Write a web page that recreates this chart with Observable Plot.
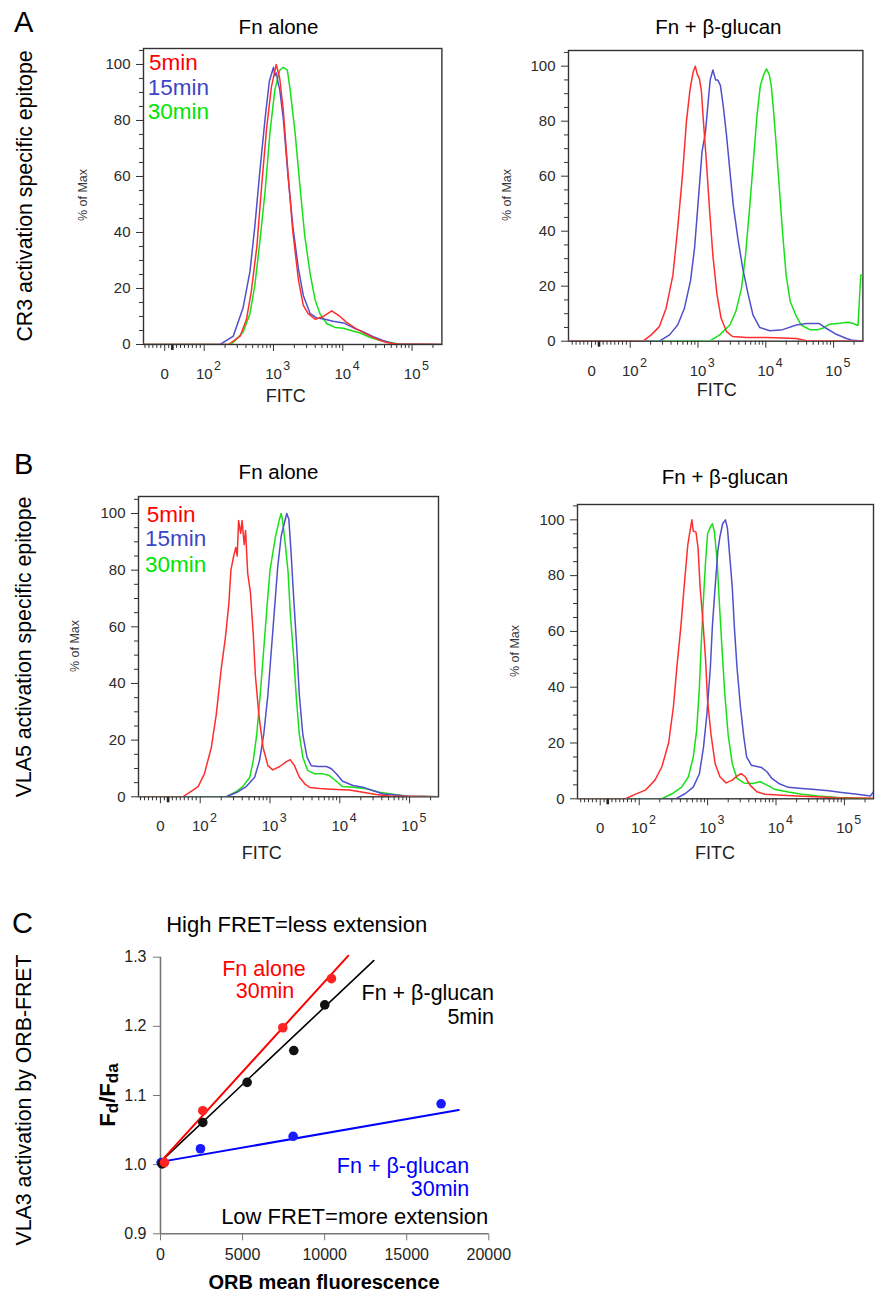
<!DOCTYPE html>
<html>
<head>
<meta charset="utf-8">
<script src="https://cdn.jsdelivr.net/npm/d3@7"></script>
<script src="https://cdn.jsdelivr.net/npm/@observablehq/plot@0.6"></script>
<style>
  html, body { margin: 0; padding: 0; background: #fff; }
  #fig { position: relative; width: 878px; height: 1293px; overflow: hidden; background: #fff;
         font-family: "Liberation Sans", Arial, Helvetica, sans-serif; }
</style>
</head>
<body>
<div id="fig"></div>
<script>
// ---------------- DATA ----------------
const timepoints = ["5min", "15min", "30min"];
const conditions = ["Fn alone", "Fn + β-glucan"];
const panelLetters = ["A", "B", "C"];
const rowLabels = ["CR3 activation specific epitope", "VLA5 activation specific epitope", "VLA3 activation by ORB-FRET"];
const histYLabel = "% of Max";
const histXLabel = "FITC";

// histogram x values are FITC channel positions in decades (biexponential display), y = % of Max
const cr3Fn5 = [[1.09,0],[2.35,0],[2.52,3],[2.61,9],[2.68,19],[2.76,35],[2.83,57],[2.90,77],[2.97,92],[3.04,100],[3.09,95],[3.14,84],[3.21,61],[3.28,40],[3.36,23],[3.43,14],[3.50,11],[3.60,9],[3.72,10],[3.84,12],[3.96,10],[4.05,8],[4.20,5.5],[4.34,3.7],[4.49,1.9],[4.63,0.7],[4.78,0.2],[5.45,0]];
const cr3Fn15 = [[1.09,0],[2.23,0],[2.42,3],[2.56,13],[2.66,26],[2.73,42],[2.80,61],[2.88,81],[2.94,94],[3.00,99],[3.02,96],[3.04,97],[3.07,93],[3.09,91],[3.14,81],[3.21,60],[3.28,42],[3.36,27],[3.43,17.5],[3.53,11],[3.62,9.5],[3.74,9],[3.86,8.3],[4.01,7.7],[4.15,6],[4.29,4.6],[4.44,2.8],[4.58,1.4],[4.73,0.2],[5.45,0]];
const cr3Fn30 = [[1.09,0],[2.39,0],[2.56,4.4],[2.66,11],[2.73,21],[2.80,36],[2.88,55],[2.95,76],[3.02,91],[3.09,98],[3.14,99],[3.20,98],[3.24,91],[3.31,76],[3.38,57],[3.45,39],[3.53,25],[3.60,16],[3.67,11],[3.77,7.4],[3.89,6.1],[4.01,5.8],[4.13,4.9],[4.25,4.1],[4.39,2.6],[4.54,1.4],[4.68,0.8],[4.80,0.2],[5.45,0]];

const cr3Glu5 = [[1.09,0],[2.19,0],[2.31,2.3],[2.43,5.3],[2.53,12],[2.63,24],[2.70,41],[2.77,60],[2.83,80],[2.88,91],[2.90,94],[2.93,98],[2.96,100],[2.99,97],[3.02,95.5],[3.05,91],[3.08,80],[3.12,66.5],[3.17,48],[3.22,31],[3.28,17],[3.34,8.4],[3.42,3.5],[3.51,1.7],[3.71,1.3],[4.01,1.3],[4.45,1.0],[4.60,0.2],[5.45,0]];
const cr3Glu15 = [[1.09,0],[2.43,0],[2.58,2.3],[2.70,5.9],[2.80,12],[2.89,22],[2.95,34],[3.01,53],[3.06,69],[3.11,76],[3.15,87],[3.18,95],[3.22,98.6],[3.26,95],[3.29,95],[3.33,93],[3.37,86],[3.42,75],[3.47,62],[3.52,49.5],[3.59,37],[3.66,26.5],[3.74,17],[3.81,9.6],[3.91,5],[4.06,3.8],[4.25,4.2],[4.45,5.9],[4.60,6.4],[4.79,6.4],[4.89,4.7],[5.04,2.5],[5.19,1],[5.28,0.3],[5.45,0]];
const cr3Glu30 = [[1.09,0],[3.17,0],[3.32,2.3],[3.47,5.9],[3.56,11],[3.64,19],[3.70,31],[3.76,48],[3.82,66.5],[3.87,82],[3.92,93],[3.97,97],[4.01,99],[4.05,97],[4.08,93],[4.11,85],[4.15,72.5],[4.20,55.5],[4.25,38.6],[4.30,24],[4.36,14.4],[4.44,9.6],[4.52,5.9],[4.65,4.2],[4.77,4.2],[4.84,4.7],[4.94,6.2],[5.09,6.5],[5.21,6.9],[5.28,6.5],[5.36,5.7],[5.40,24],[5.45,24]];

const vla5Fn5 = [[1.09,0],[1.75,0],[1.87,1.9],[1.97,3.6],[2.06,8.1],[2.16,17.5],[2.23,29],[2.30,45],[2.36,56],[2.41,68],[2.44,80],[2.48,85],[2.51,88],[2.53,85],[2.55,97.5],[2.58,93],[2.60,97.5],[2.63,89],[2.65,94],[2.68,79],[2.72,72],[2.76,57.5],[2.79,43],[2.84,29],[2.90,17.5],[2.97,11],[3.04,9.5],[3.14,10.7],[3.23,12.3],[3.29,13.1],[3.35,11],[3.42,7],[3.50,4.5],[3.57,3.3],[3.71,2.9],[3.95,2.6],[4.14,2.4],[4.33,1.6],[4.52,0.8],[4.71,0.3],[5.45,0]];
const vla5Fn15 = [[1.09,0],[2.37,0],[2.52,1.5],[2.66,3.6],[2.78,6.9],[2.85,12.8],[2.91,22],[2.97,36],[3.02,52],[3.07,68],[3.11,81],[3.16,92],[3.21,97],[3.24,100],[3.27,98],[3.30,87],[3.34,70],[3.38,54],[3.42,36],[3.47,22],[3.53,14],[3.59,11],[3.69,10.7],[3.81,10.7],[3.88,9.9],[3.95,8.1],[4.04,5.5],[4.19,4],[4.33,3.4],[4.47,2.2],[4.62,1],[4.81,0.6],[4.95,0.2],[5.45,0]];
const vla5Fn30 = [[1.09,0],[2.37,0],[2.52,1.9],[2.61,3.6],[2.71,6.9],[2.76,12.8],[2.81,22],[2.86,36],[2.91,52],[2.96,68],[3.00,80],[3.04,86],[3.08,92],[3.13,97.5],[3.16,100],[3.18,97.5],[3.22,89],[3.26,79],[3.29,65],[3.34,49],[3.38,34],[3.42,22],[3.47,14],[3.54,9.3],[3.64,8.1],[3.76,8.1],[3.85,7.5],[3.95,5.5],[4.04,3.6],[4.19,3.4],[4.38,2.8],[4.57,1.6],[4.81,0.7],[4.98,0.2],[5.45,0]];

const vla5Glu5 = [[1.09,0],[1.80,0],[1.94,1.6],[2.09,3.1],[2.23,6.7],[2.33,11.4],[2.43,20],[2.50,33],[2.55,47],[2.61,62],[2.66,77],[2.71,91],[2.75,97],[2.77,100],[2.79,96],[2.83,95.6],[2.86,90],[2.89,76],[2.93,64],[2.97,50],[3.00,35],[3.05,23],[3.11,12.6],[3.18,7.9],[3.27,5.7],[3.36,6.7],[3.43,8.1],[3.49,9],[3.55,7.9],[3.62,4.9],[3.72,2.5],[3.84,1.6],[4.09,1.3],[4.38,0.9],[4.67,0.6],[4.87,0.4],[5.45,0.2]];
const vla5Glu15 = [[1.09,0],[2.53,0],[2.67,1.8],[2.79,4.2],[2.88,9],[2.94,18.5],[2.99,30.5],[3.04,47],[3.07,62],[3.11,76],[3.15,89],[3.18,94],[3.22,98.6],[3.26,100],[3.29,97],[3.32,88],[3.36,76],[3.39,62],[3.43,47],[3.48,33],[3.53,22],[3.57,15],[3.64,12],[3.72,11.6],[3.79,11.2],[3.87,9.6],[3.94,7.3],[4.04,5.5],[4.18,4.1],[4.38,3.7],[4.57,3.3],[4.77,2.9],[4.96,2.3],[5.16,1.7],[5.30,1.3],[5.38,1.0],[5.42,2.4]];
const vla5Glu30 = [[1.09,0],[2.33,0],[2.48,1.8],[2.62,4.2],[2.72,7.9],[2.79,15],[2.84,24.5],[2.88,40],[2.91,57],[2.94,72],[2.97,85],[3.00,95],[3.04,97.4],[3.07,98.6],[3.10,95.6],[3.14,85],[3.17,71],[3.21,54],[3.25,38],[3.30,23],[3.36,12.6],[3.43,7.3],[3.53,5.7],[3.65,5.5],[3.77,6.1],[3.87,4.9],[3.99,3.3],[4.18,2.4],[4.38,1.6],[4.62,1],[4.91,0.5],[5.45,0]];

// histogram axes
const histYTicks = [0, 20, 40, 60, 80, 100];
const histXTicks = [1.43, 2, 3, 4, 5];          // biexponential positions of 0, 10^2 ... 10^5
const histXTickLabels = ["0", "10^2", "10^3", "10^4", "10^5"];
const histZeroMark = [1.54];

// Panel C: ORB-FRET
const fnAlone30X = [244, 2577, 7450, 10414];
const fnAlone30Y = [1.003, 1.078, 1.198, 1.269];
const glucan5X = [100, 2577, 5279, 8120, 10008];
const glucan5Y = [1.001, 1.061, 1.119, 1.165, 1.231];
const glucan30X = [40, 2436, 8080, 17094];
const glucan30Y = [1.003, 1.023, 1.041, 1.088];
// fitted lines (start / end)
const fitFnAlone30 = [[0, 1.004], [11430, 1.302]];
const fitGlucan5 = [[0, 1.004], [12990, 1.295]];
const fitGlucan30 = [[0, 1.004], [18170, 1.079]];
const cXTicks = [0, 5000, 10000, 15000, 20000];
const cYTicks = [0.9, 1.0, 1.1, 1.2, 1.3];
const cSeriesLabels = [["Fn alone", "30min"], ["Fn + β-glucan", "5min"], ["Fn + β-glucan", "30min"]];
const cTitles = ["High FRET=less extension", "Low FRET=more extension"];
const cXLabel = "ORB mean fluorescence";

// ---------------- STYLE ----------------
const FONT = '"Liberation Sans", Arial, Helvetica, sans-serif';
const histColors = { "5min": "#ff2e2e", "15min": "#5050cc", "30min": "#18e018" };
const legendColors = { "5min": "#ff0000", "15min": "#3c46c6", "30min": "#00e400" };
const cRed = "#ff0000", cBlack = "#000000", cBlue = "#0000ff";

const fig = document.getElementById("fig");
const NS = "http://www.w3.org/2000/svg";

function place(node, left, top) {
  node.style.position = "absolute";
  node.style.left = left + "px";
  node.style.top = top + "px";
  fig.appendChild(node);
}

function supFix(svg) {
  svg.querySelectorAll("text").forEach(t => {
    const m = /^10\^(\d)$/.exec(t.textContent);
    if (m) {
      t.textContent = "";
      t.setAttribute("text-anchor", "start");
      const a = document.createElementNS(NS, "tspan");
      a.textContent = "10";
      a.setAttribute("dx", "-8.3");
      const b = document.createElementNS(NS, "tspan");
      b.textContent = m[1];
      b.setAttribute("dy", "-9");
      b.setAttribute("dx", "1.5");
      b.setAttribute("font-size", "12.5");
      t.append(a, b);
    }
  });
}

const yMinor = d3.range(5, 106, 5).filter(v => v % 20 !== 0);
const xMinorLinear = d3.range(-50, 100, 10).filter(v => v !== 0).map(v => histXTicks[0] + v * 0.0057);
const xMinorLog = d3.range(2, 6).flatMap(n => d3.range(2, 10).map(k => n + Math.log10(k)));

function histogram(frame, xDomain, yTop, curves) {
  const [x0, y0, x1, y1] = frame;
  const mL = 55, mT = 10, mR = 6, mB = 60;
  const minor = [...xMinorLinear, ...xMinorLog].filter(t => t > xDomain[0] && t < xDomain[1]);
  const svg = Plot.plot({
    width: (x1 - x0) + mL + mR,
    height: (y1 - y0) + mT + mB,
    marginLeft: mL, marginTop: mT, marginRight: mR, marginBottom: mB,
    style: { fontFamily: FONT, background: "transparent", overflow: "visible" },
    x: { domain: xDomain, axis: null },
    y: { domain: [0, yTop], axis: null },
    marks: [
      Plot.axisY({ ticks: yMinor, tickSize: 4, tickFormat: () => "", stroke: "#333", label: null }),
      Plot.axisY({ ticks: histYTicks, tickSize: 7, tickPadding: 6, fontSize: 15, stroke: "#333", fill: "#2b2b2b", label: null }),
      Plot.axisX({ ticks: minor, tickSize: 4, tickFormat: () => "", stroke: "#333", label: null }),
      Plot.axisX({ ticks: histZeroMark, tickSize: 6, strokeWidth: 2.6, tickFormat: () => "", stroke: "#222", label: null }),
      Plot.axisX({ ticks: histXTicks, tickSize: 7, tickPadding: 17, fontSize: 15, stroke: "#333", fill: "#2b2b2b", label: null,
                   tickFormat: d => histXTickLabels[histXTicks.indexOf(d)] }),
      Plot.frame({ stroke: "#333", strokeWidth: 1.4 }),
      ...curves.map(([t, data]) => Plot.line(data, { x: d => d[0], y: d => d[1], stroke: histColors[t], strokeWidth: 1.5, clip: true }))
    ]
  });
  supFix(svg);
  place(svg, x0 - mL, y0 - mT);
}

histogram([143.3, 48.3, 441.7, 344.3], [1.124, 5.43], 105.7, [["30min", cr3Fn30], ["15min", cr3Fn15], ["5min", cr3Fn5]]);
histogram([568.3, 50, 862.7, 340.7], [1.09, 5.432], 105.7, [["30min", cr3Glu30], ["15min", cr3Glu15], ["5min", cr3Glu5]]);
histogram([138.3, 495.7, 438.3, 796], [1.116, 5.414], 106, [["30min", vla5Fn30], ["15min", vla5Fn15], ["5min", vla5Fn5]]);
histogram([577.3, 504, 873.3, 798.3], [1.098, 5.425], 105.5, [["30min", vla5Glu30], ["15min", vla5Glu15], ["5min", vla5Glu5]]);

// ---------------- PANEL C ----------------
{
  const pts = (xs, ys) => xs.map((x, i) => ({ x, y: ys[i] }));
  const svg = Plot.plot({
    width: 460, height: 393,
    marginLeft: 100, marginTop: 56.7, marginRight: 31.7, marginBottom: 59.7,
    style: { fontFamily: FONT, background: "transparent", overflow: "visible" },
    x: { domain: [0, 20000], axis: null },
    y: { domain: [0.9, 1.3], axis: null },
    marks: [
      Plot.axisY({ ticks: cYTicks, tickSize: 7, tickPadding: 7, fontSize: 16, tickFormat: d3.format(".1f"), stroke: "#777", fill: "#1e1e1e", label: null }),
      Plot.axisX({ ticks: cXTicks, tickSize: 7, tickPadding: 8, fontSize: 16, tickFormat: d3.format("d"), stroke: "#777", fill: "#1e1e1e", label: null }),
      Plot.ruleX([0], { stroke: "#777", strokeWidth: 1.6 }),
      Plot.ruleY([0.9], { stroke: "#777", strokeWidth: 1.6 }),
      Plot.line(fitGlucan30, { x: d => d[0], y: d => d[1], stroke: cBlue, strokeWidth: 2 }),
      Plot.line(fitGlucan5, { x: d => d[0], y: d => d[1], stroke: cBlack, strokeWidth: 1.6 }),
      Plot.line(fitFnAlone30, { x: d => d[0], y: d => d[1], stroke: cRed, strokeWidth: 2 }),
      Plot.dot(pts(glucan30X, glucan30Y), { x: "x", y: "y", r: 4.8, fill: "#1a1aff" }),
      Plot.dot(pts(glucan5X, glucan5Y), { x: "x", y: "y", r: 4.8, fill: "#111" }),
      Plot.dot(pts(fnAlone30X, fnAlone30Y), { x: "x", y: "y", r: 4.8, fill: "#ff2222" })
    ]
  });
  place(svg, 60, 900);
}

// ---------------- TEXT OVERLAY ----------------
const ov = d3.select(fig).append("svg")
  .attr("width", 878).attr("height", 1293)
  .style("position", "absolute").style("left", "0px").style("top", "0px")
  .style("pointer-events", "none")
  .attr("font-family", FONT);

function txt(str, x, y, o = {}) {
  const t = ov.append("text")
    .attr("text-anchor", o.anchor || "middle")
    .attr("font-size", o.size || 16)
    .attr("font-weight", o.weight || "normal")
    .attr("fill", o.color || "#000")
    .text(str);
  if (o.rotate) t.attr("transform", `translate(${x},${y}) rotate(-90)`);
  else t.attr("x", x).attr("y", y);
  return t;
}

// panel letters
txt(panelLetters[0], 14, 32, { anchor: "start", size: 29 });
txt(panelLetters[1], 14, 473.5, { anchor: "start", size: 29 });
txt(panelLetters[2], 12, 933, { anchor: "start", size: 29 });

// row labels
txt(rowLabels[0], 32, 196, { size: 21.3, rotate: true });
txt(rowLabels[1], 31, 647, { size: 21.3, rotate: true });
txt(rowLabels[2], 31, 1100, { size: 21.3, rotate: true });

// column titles
txt(conditions[0], 278.5, 34, { size: 20.5 });
txt(conditions[1], 718.3, 34.3, { size: 20.5 });
txt(conditions[0], 278.5, 479.3, { size: 20.5 });
txt(conditions[1], 725, 484, { size: 20.5 });

// % of Max
[[86.5, 195], [511, 195], [79, 646], [519, 651]].forEach(([x, y]) =>
  txt(histYLabel, x, y, { size: 12.5, rotate: true, color: "#3a3a3a" }));

// FITC
[[285.8, 401.5], [716.7, 395.5], [261.7, 858.5], [715, 859]].forEach(([x, y]) =>
  txt(histXLabel, x, y, { size: 18, color: "#222" }));

// legends
const legA = [[149, 70], [147.7, 94.5], [147.7, 119.3]];
const legB = [[146.7, 521.7], [145, 546], [145, 571.7]];
timepoints.forEach((t, i) => {
  txt(t, legA[i][0], legA[i][1], { anchor: "start", size: 22.5, color: legendColors[t] });
  txt(t, legB[i][0], legB[i][1], { anchor: "start", size: 22.5, color: legendColors[t] });
});

// panel C annotations
txt(cTitles[0], 296.7, 931.7, { size: 22 });
txt(cTitles[1], 488.3, 1224, { anchor: "end", size: 22 });
txt(cSeriesLabels[0][0], 264, 976.2, { size: 21.5, color: cRed });
txt(cSeriesLabels[0][1], 265, 998, { size: 21.5, color: cRed });
txt(cSeriesLabels[1][0], 494, 1000, { anchor: "end", size: 21.5, color: cBlack });
txt(cSeriesLabels[1][1], 494, 1023.5, { anchor: "end", size: 21.5, color: cBlack });
txt(cSeriesLabels[2][0], 469.3, 1173, { anchor: "end", size: 21.5, color: cBlue });
txt(cSeriesLabels[2][1], 469.3, 1195.5, { anchor: "end", size: 21.5, color: cBlue });
txt(cXLabel, 324, 1289, { size: 20, weight: "bold" });

// F_d / F_da
{
  const t = ov.append("text")
    .attr("text-anchor", "middle").attr("font-size", 22).attr("font-weight", "bold")
    .attr("transform", "translate(115,1095) rotate(-90)");
  t.append("tspan").text("F");
  t.append("tspan").attr("font-size", 17).attr("dy", 3).text("d");
  t.append("tspan").attr("dy", -3).text("/F");
  t.append("tspan").attr("font-size", 17).attr("dy", 3).text("da");
}
</script>
</body>
</html>
